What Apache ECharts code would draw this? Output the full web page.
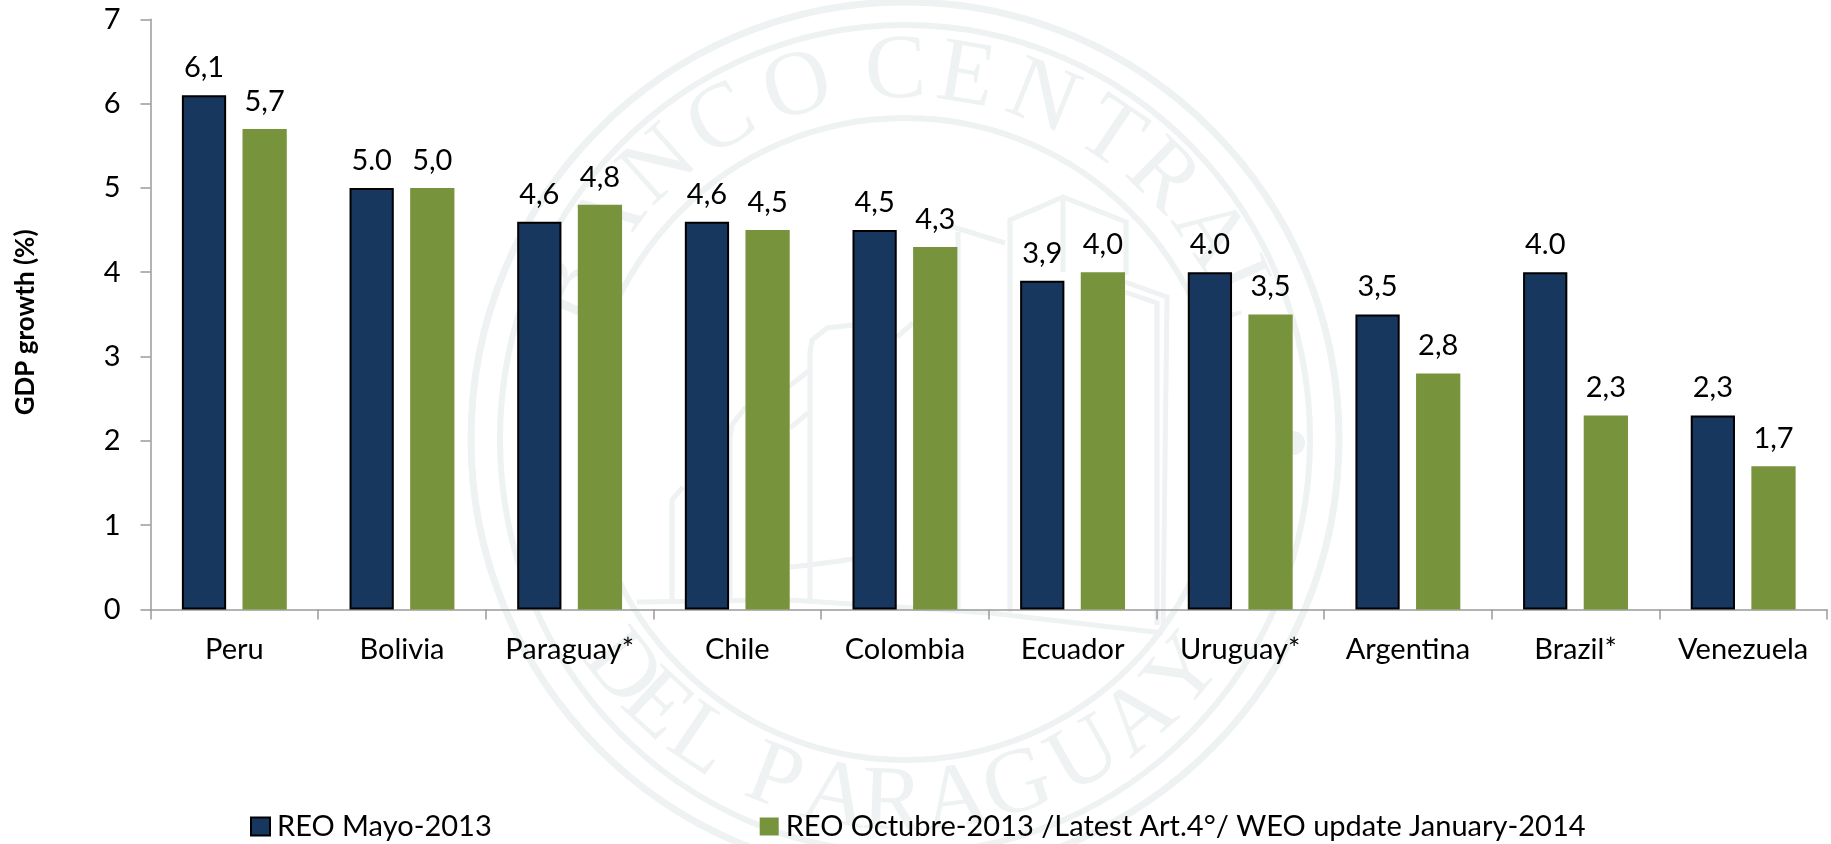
<!DOCTYPE html>
<html><head><meta charset="utf-8">
<style>html,body{margin:0;padding:0;background:#fff}#c{width:1831px;height:844px}</style>
<script src="https://cdn.jsdelivr.net/npm/echarts@6/dist/echarts.min.js"></script>
</head><body><div id="c"></div>
<script>
const categories = ['Peru','Bolivia','Paraguay*','Chile','Colombia','Ecuador','Uruguay*','Argentina','Brazil*','Venezuela'];
const mayo = [6.1,5.0,4.6,4.6,4.5,3.9,4.0,3.5,4.0,2.3];
const octubre = [5.7,5.0,4.8,4.5,4.3,4.0,3.5,2.8,2.3,1.7];
const mayoLabels = ['6,1','5.0','4,6','4,6','4,5','3,9','4.0','3,5','4.0','2,3'];
const octubreLabels = ['5,7','5,0','4,8','4,5','4,3','4,0','3,5','2,8','2,3','1,7'];
const seriesNames = ['REO Mayo-2013','REO Octubre-2013 /Latest Art.4°/ WEO update January-2014'];
const FONT = 'Lato';
const SEAL = '#eef2f2';
const cx = 905, cy = 439;
const topLetters = [['B',-66],['A',-54],['N',-42],['C',-30],['O',-17],['C',-1.5],['E',9.6],['N',22],['T',34],['R',44.5],['A',56],['L',66]];
const bottomLetters = [['D',-51],['E',-43],['L',-34],['P',-21],['A',-11],['R',-2],['A',8],['G',18],['U',29.5],['A',40],['Y',50]];
const ring = (rx, ry, w) => ({type:'ellipse', z:-10, silent:true, shape:{cx,cy,rx,ry}, style:{fill:'none',stroke:SEAL,lineWidth:w}});
const letter = (ch, deg, r, bottom) => {
  const a = deg*Math.PI/180;
  const x = cx + r*Math.sin(a);
  const y = bottom ? cy + r*Math.cos(a) : cy - r*Math.cos(a);
  return {type:'text', z:-10, silent:true, x, y, rotation: bottom ? a : -a,
    style:{text:ch, fill:SEAL, font:'92px "Liberation Serif"', align:'center', verticalAlign:'middle'}};
};
const poly = pts => ({type:'polyline', z:-10, silent:true, shape:{points:pts}, style:{fill:'none',stroke:SEAL,lineWidth:5}});
const dot = (x,y,r) => ({type:'circle', z:-10, silent:true, shape:{cx:x,cy:y,r}, style:{fill:SEAL}});
const seal = [
  ring(434,437,7), ring(405,414,6), ring(319,321,6),
  ...topLetters.map(l=>letter(l[0],l[1],366,false)),
  ...bottomLetters.map(l=>letter(l[0],l[1],366,true)),
  dot(1293,443,12),
  poly([[1010,612],[1010,220],[1063,197],[1126,222],[1126,275]]),
  poly([[1063,197],[1063,272]]),
  poly([[950,226],[1005,243]]),
  poly([[958,232],[958,610]]),
  poly([[1125,282],[1167,297],[1163,630]]),
  poly([[1125,292],[1157,303],[1157,625]]),
  poly([[637,602],[790,600],[990,613],[1163,633]]),
  poly([[852,325],[827,328],[812,340],[810,352],[810,600]]),
  poly([[810,370],[788,387],[745,408],[732,425],[730,437],[730,600]]),
  poly([[808,413],[790,428]]),
  poly([[683,487],[672,500],[672,600]]),
  poly([[790,567],[810,565],[897,553]]),
  poly([[897,337],[913,323]])
];
const chart = echarts.init(document.getElementById('c'), null, {renderer:'canvas'});
const labelStyle = arr => ({show:true, position:'top', distance:13, color:'#000', fontFamily:FONT, fontSize:29,
  formatter:p=>arr[p.dataIndex]});
chart.setOption({
  animation:false,
  backgroundColor:'#fff',
  graphic:{elements:seal},
  legend:{left:250, top:812, padding:0, itemWidth:19, itemHeight:18, itemGap:268, icon:'rect',
    textStyle:{fontFamily:FONT, fontSize:29, color:'#000', padding:[0,0,0,2]},
    data:seriesNames},
  grid:{left:150.5, right:4, top:19.3, height:590.2},
  xAxis:{type:'category', data:categories,
    axisLine:{lineStyle:{color:'#9a9a9a',width:1.5}},
    axisTick:{show:true,length:10,lineStyle:{color:'#9a9a9a',width:1.5}},
    axisLabel:{color:'#000',fontFamily:FONT,fontSize:29,margin:26,interval:0}},
  yAxis:{type:'value', min:0, max:7, interval:1,
    name:'GDP growth (%)', nameLocation:'middle', nameGap:112, nameRotate:90,
    nameTextStyle:{color:'#000',fontFamily:FONT,fontSize:26,fontWeight:'bold',padding:[0,16,0,0]},
    splitLine:{show:false},
    axisLine:{show:true,lineStyle:{color:'#9a9a9a',width:1.5}},
    axisTick:{show:true,length:10,lineStyle:{color:'#9a9a9a',width:1.5}},
    axisLabel:{color:'#000',fontFamily:FONT,fontSize:29,margin:30}},
  series:[
    {name:seriesNames[0], type:'bar', data:mayo, barWidth:'26.4%', barGap:'37%',
     itemStyle:{color:'#17375e',borderColor:'#000',borderWidth:2}, label:labelStyle(mayoLabels)},
    {name:seriesNames[1], type:'bar', data:octubre, barWidth:'26.4%',
     itemStyle:{color:'#77933c'}, label:labelStyle(octubreLabels)}
  ]
});
</script></body></html>
